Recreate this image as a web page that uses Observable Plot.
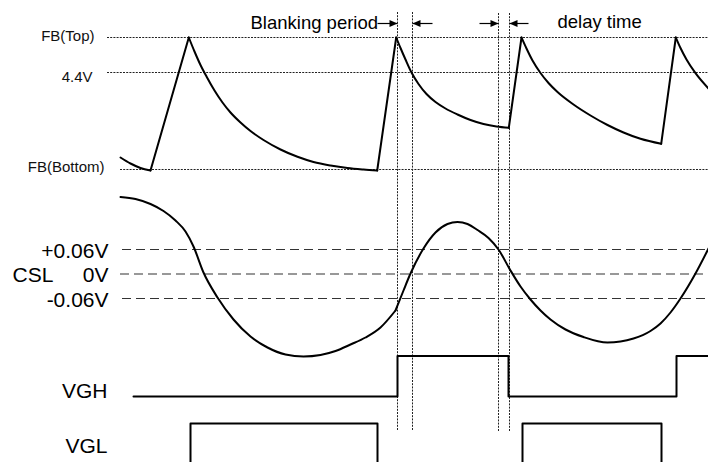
<!DOCTYPE html>
<html><head><meta charset="utf-8">
<script src="https://cdn.jsdelivr.net/npm/d3@7"></script>
<script src="https://cdn.jsdelivr.net/npm/@observablehq/plot@0.6"></script>
<style>html,body{margin:0;padding:0;background:#fff;} svg{display:block;}</style>
</head><body><div id="chart"></div>
<script>
// Time axis in arbitrary units (0..708); level axis in diagram units (0 = top .. 462 = bottom)

// FB reference levels
const fbRefLabels = ["FB(Top)", "4.4V", "FB(Bottom)"];
const fbRefLevels = [37, 72, 169];
const fbRefStart  = [107, 107, 120];
const fbLabelEnd  = [94, 92, 104];
const fbLabelV    = [35.5, 76.5, 166.5];

// CSL reference levels
const cslRefLabels = ["+0.06V", "0V", "-0.06V"];
const cslRefLevels = [249, 273.5, 298];
const cslRefStart  = [122, 120, 122];

// FB waveform, piecewise (rise = ramp, decay = discharge curve)
const fbSegT = [
  [120, 130, 140, 150],
  [150, 188.3],
  [188.3, 194, 200, 206, 214, 222, 230, 240, 250, 263, 280, 297, 313, 330, 347, 363, 376.7],
  [376.7, 395.7],
  [395.7, 400, 405, 411, 418, 426, 435, 445, 457, 470, 483, 496, 508.3],
  [508.3, 521],
  [521, 526, 532, 540, 548, 557, 573, 590, 607, 623, 640, 660.7],
  [660.7, 675.3],
  [675.3, 680, 686, 695, 708]
];
const fbSegV = [
  [157, 163, 167.5, 170],
  [170, 37],
  [37, 51, 64.5, 76, 90, 102, 112, 122, 130.5, 139.5, 149, 156.3, 161.5, 165, 167.5, 169, 170],
  [170, 37],
  [37, 47.5, 59, 72, 83.5, 93.5, 101.5, 108, 114, 119.5, 123.5, 126, 127.3],
  [127.3, 37],
  [37, 48, 60, 72.5, 82.5, 91.5, 104, 115, 124.5, 132, 138.3, 143.3],
  [143.3, 37],
  [37, 47.5, 59, 72.7, 88]
];

// CSL waveform (two pieces, kink at blanking start)
const cslSegT = [
  [120, 135, 150, 163, 175, 185, 193, 203, 217, 233, 250, 267, 285, 303, 320, 335, 350, 365, 380, 395],
  [395, 403, 410, 423, 435, 447, 457, 467, 477, 488, 498, 510, 520, 530, 540, 550, 565, 583, 607, 633, 650, 660, 670, 680, 695, 708]
];
const cslSegV = [
  [196.5, 198.5, 203.5, 210.5, 220, 231, 246, 272, 297, 319, 336, 347, 354, 356, 354.5, 350.5, 344, 337, 327, 310],
  [310, 290, 273, 248, 232, 223.5, 221.5, 223.5, 229.5, 237.5, 249, 270, 286, 299, 310, 319, 329, 336.5, 342, 338, 330.5, 323, 312, 298, 273, 248]
];

// VGH / VGL logic levels (step-after)
const vghT = [133, 397, 508, 676, 708];
const vghV = [396, 355.6, 396, 355.6, 355.6];
const vglT = [133, 190, 377, 522, 661, 708];
const vglV = [462.5, 423, 462.5, 423, 462.5, 462.5];

// Timing markers
const markerT = [397, 412, 498, 509];
const markerTop = [12, 12, 13, 13];
const markerBottom = [430, 430, 431, 431];

// Arrows: head time, tail time
const arrowHead = [397, 412, 498, 509];
const arrowTail = [377, 432, 479, 528];
const arrowLevel = 23;

// Annotations
const annotText = ["Blanking period", "delay time"];
const annotT = [250, 557];
const annotV = [23, 22];

// Signal names
const sigNames = ["VGH", "VGL"];
const sigNameV = [391, 446];

// ---------- build rows ----------
const fbRef = fbRefLabels.map((label, i) => ({label, v: fbRefLevels[i], start: fbRefStart[i], end: fbLabelEnd[i], lv: fbLabelV[i]}));
const cslRef = cslRefLabels.map((label, i) => ({label, v: cslRefLevels[i], start: cslRefStart[i]}));
const fbRows = fbSegT.flatMap((ts, s) => ts.map((t, j) => ({seg: s, t, v: fbSegV[s][j]})));
const cslRows = cslSegT.flatMap((ts, s) => ts.map((t, j) => ({seg: s, t, v: cslSegV[s][j]})));
const vghRows = vghT.map((t, i) => ({t, v: vghV[i]}));
const vglRows = vglT.map((t, i) => ({t, v: vglV[i]}));
const markers = markerT.map((t, i) => ({t, y1: markerTop[i], y2: markerBottom[i]}));
const arrows = arrowHead.map((h, i) => ({head: h, tail: arrowTail[i], dir: Math.sign(h - arrowTail[i])}));
const annots = annotText.map((text, i) => ({text, t: annotT[i], v: annotV[i]}));
const sigs = sigNames.map((name, i) => ({name, v: sigNameV[i]}));

const headSymbol = {
  draw(ctx) { ctx.moveTo(0, 0); ctx.lineTo(-8, -3.5); ctx.lineTo(-8, 3.5); ctx.closePath(); }
};

const font = "'Liberation Sans', Arial, Helvetica, sans-serif";

const chart = Plot.plot({
  width: 708, height: 462,
  marginTop: 0, marginRight: 0, marginBottom: 0, marginLeft: 0,
  x: {domain: [0, 708], axis: null},
  y: {domain: [0, 462], range: [0, 462], axis: null},
  style: {fontFamily: font, background: "#fff", overflow: "hidden"},
  marks: [
    // reference lines
    Plot.ruleY(fbRef, {y: "v", x1: "start", x2: 708, stroke: "#222", strokeWidth: 1, strokeDasharray: "2,1.2"}),
    Plot.ruleY(cslRef, {y: "v", x1: "start", x2: 708, stroke: "#333", strokeWidth: 1.2, strokeDasharray: "9,5"}),
    // timing markers
    Plot.ruleX(markers, {x: "t", y1: "y1", y2: "y2", stroke: "#222", strokeWidth: 1, strokeDasharray: "2,1.2"}),
    // arrows
    Plot.link(arrows, {x1: "tail", x2: "head", y1: arrowLevel, y2: arrowLevel, stroke: "#000", strokeWidth: 1.2}),
    Plot.dot(arrows, {x: "head", y: arrowLevel, symbol: headSymbol, rotate: d => d.dir > 0 ? 0 : 180, fill: "#000", stroke: "none", r: 3}),
    // waveforms
    Plot.line(fbRows, {x: "t", y: "v", z: "seg", curve: "monotone-x", stroke: "#000", strokeWidth: 2}),
    Plot.line(cslRows, {x: "t", y: "v", z: "seg", curve: "monotone-x", stroke: "#000", strokeWidth: 2}),
    Plot.line(vghRows, {x: "t", y: "v", curve: "step-after", stroke: "#000", strokeWidth: 2}),
    Plot.line(vglRows, {x: "t", y: "v", curve: "step-after", stroke: "#000", strokeWidth: 2}),
    // labels
    Plot.text(fbRef, {x: "end", y: "lv", text: "label", textAnchor: "end", fontSize: 15, fill: "#111"}),
    Plot.text(cslRef, {x: 108, y: "v", text: "label", textAnchor: "end", dy: 1.5, fontSize: 21, fill: "#000"}),
    Plot.text(["CSL"], {x: 12, y: cslRefLevels[1], text: d => d, textAnchor: "start", dy: 1.5, fontSize: 21, fill: "#000"}),
    Plot.text(sigs, {x: 107, y: "v", text: "name", textAnchor: "end", fontSize: 21, fill: "#000"}),
    Plot.text(annots, {x: "t", y: "v", text: "text", textAnchor: "start", fontSize: 18.5, fill: "#000"})
  ]
});
document.getElementById("chart").appendChild(chart);
</script>
</body></html>
